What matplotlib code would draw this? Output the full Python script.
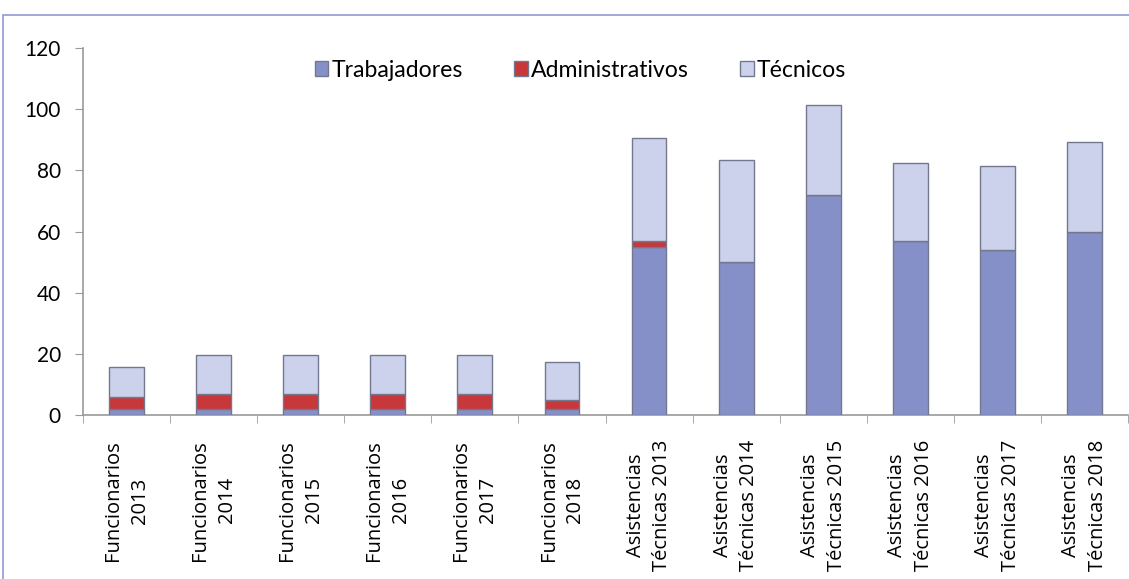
import numpy as np
import matplotlib.pyplot as plt
from matplotlib.patches import Rectangle

# Chart data
categories = ["Funcionarios\n2013", "Funcionarios\n2014", "Funcionarios\n2015",
              "Funcionarios\n2016", "Funcionarios\n2017", "Funcionarios\n2018",
              "Asistencias\nTécnicas 2013", "Asistencias\nTécnicas 2014",
              "Asistencias\nTécnicas 2015", "Asistencias\nTécnicas 2016",
              "Asistencias\nTécnicas 2017", "Asistencias\nTécnicas 2018"]
trabajadores = [2, 2, 2, 2, 2, 2, 55, 50, 72, 57, 54, 60]
administrativos = [4, 5, 5, 5, 5, 3, 2, 0, 0, 0, 0, 0]
tecnicos = [9.6, 12.6, 12.6, 12.6, 12.6, 12.3, 33.5, 33.3, 29.3, 25.3, 27.5, 29.4]
yticks = [0, 20, 40, 60, 80, 100, 120]

series = [("Trabajadores", trabajadores, "#8590c8"),
          ("Administrativos", administrativos, "#c8373a"),
          ("Técnicos", tecnicos, "#cdd2ec")]

fig = plt.figure(figsize=(11.29, 5.79), dpi=100)
ax = fig.add_axes([83 / 1129, 164 / 579, 1045 / 1129, 367 / 579])

x = np.arange(len(categories))
bottom = np.zeros(len(categories))
for name, vals, col in series:
    vals = np.array(vals, dtype=float)
    ax.bar(x, vals, width=0.4, bottom=bottom, color=col, edgecolor="#73788f",
           linewidth=1.0, label=name, zorder=3)
    bottom += vals

ax.set_xlim(-0.5, len(categories) - 0.5)
ax.set_ylim(0, 120)
ax.set_yticks(yticks)
ax.set_yticklabels([str(v) for v in yticks], fontfamily="Lato", fontsize=15)

ax.set_xticks(x)
ax.set_xticklabels(categories, rotation=90, fontfamily="Open Sans", fontsize=14.5,
                   ha="center", va="top", multialignment="center", linespacing=1.45)
ax.tick_params(axis="x", length=0, pad=18)
ax.set_xticks(np.arange(-0.5, len(categories)), minor=True)
ax.tick_params(axis="x", which="minor", length=6, color="#9a9a9a", direction="out")
ax.tick_params(axis="y", length=6, color="#9a9a9a", direction="out", pad=10)

for s in ["top", "right"]:
    ax.spines[s].set_visible(False)
for s in ["left", "bottom"]:
    ax.spines[s].set_color("#9a9a9a")
    ax.spines[s].set_linewidth(1.2)

leg = ax.legend(loc="upper center", bbox_to_anchor=(0.476, 1.025), ncol=3,
                frameon=False, handlelength=0.6, handleheight=0.6,
                handletextpad=0.15, columnspacing=2.2,
                prop={"family": "Lato", "size": 16.6})
for h in leg.legend_handles:
    h.set_edgecolor("#73788f")

# outer chart border (cut off at right and bottom like the reference)
fig.add_artist(Rectangle((3 / 1129, -0.1), 1.2, 1.1 - 15 / 579,
                         transform=fig.transFigure, fill=False,
                         edgecolor="#8f9ad2", linewidth=1.2))

plt.savefig("out.png", dpi=100)
